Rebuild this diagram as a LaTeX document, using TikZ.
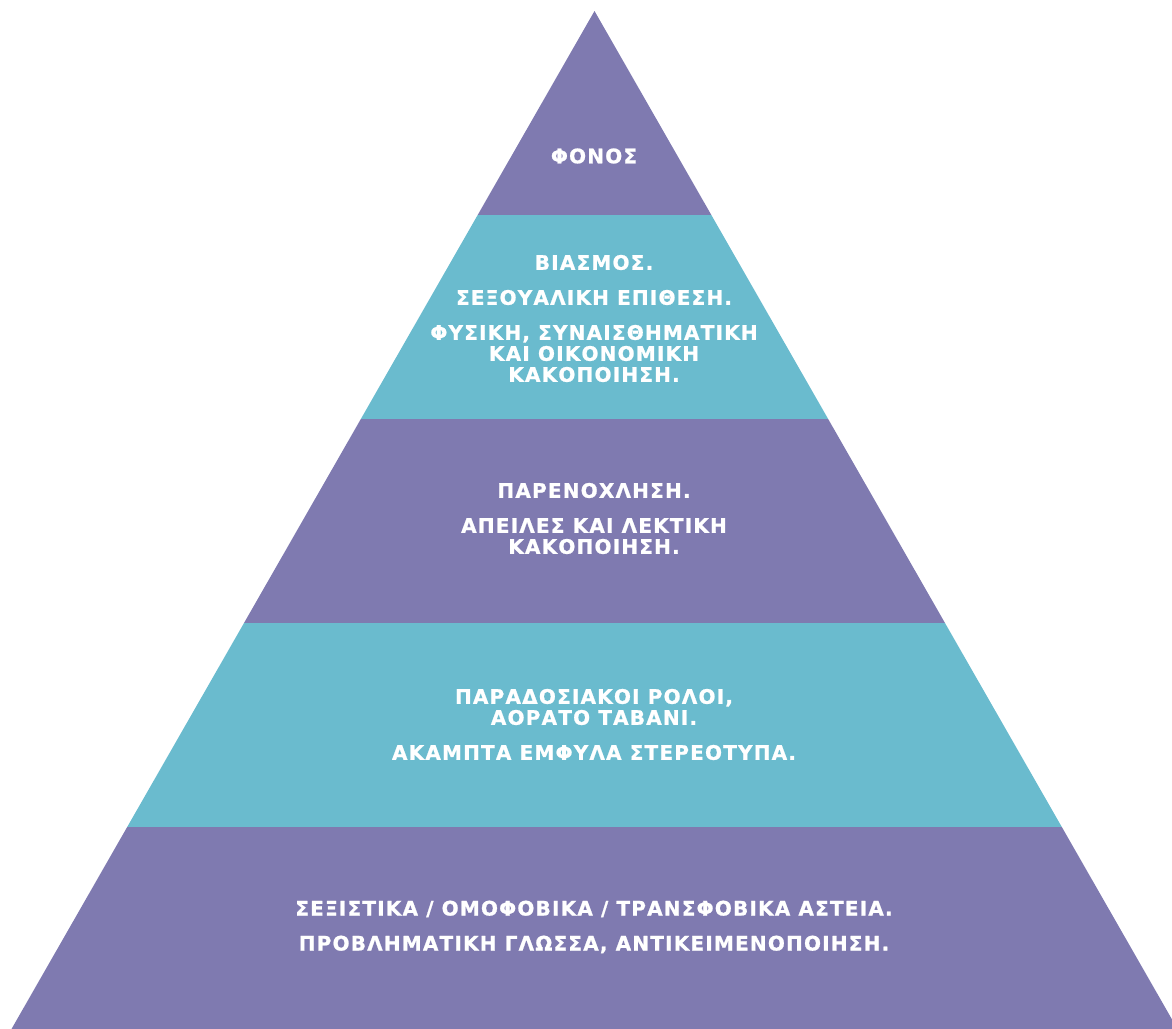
\documentclass[tikz,border=0pt]{standalone}
\usepackage{fontspec}
\usepackage{tikz}
\usetikzlibrary{calc}
\newfontfamily\pyrfont[LetterSpace=6,BoldFeatures={FakeBold=1}]{DejaVu Sans}
\definecolor{pyrpurple}{RGB}{127,122,176}
\definecolor{pyrteal}{RGB}{106,187,206}

\begin{document}
\begin{tikzpicture}[x=1pt,y=-1pt,
  band/.style={draw=none},
  words/.style={text=white,align=center,inner sep=0pt,
    font=\pyrfont\bfseries\fontsize{20}{21}\selectfont}]
  \useasboundingbox (0,0) rectangle (1172,1028);

  % bands of the pyramid, top to bottom
  \foreach \top/\bot/\col in {11/215/pyrpurple, 215/419/pyrteal, 419/623/pyrpurple,
                              623/827/pyrteal, 827/1031/pyrpurple}
  {
    \fill[band,\col] ({594.5-0.5727*(\top-11)},\top) -- ({594.5+0.5727*(\top-11)},\top)
      -- ({594.5+0.5727*(\bot-11)},\bot) -- ({594.5-0.5727*(\bot-11)},\bot) -- cycle;
  }

  \node(murder) [words] at (594,156) {ΦΟΝΟΣ};
  \node(rape) [words] at (594,318.5)
    {ΒΙΑΣΜΟΣ.\\[14pt] ΣΕΞΟΥΑΛΙΚΗ ΕΠΙΘΕΣΗ.\\[14pt] ΦΥΣΙΚΗ, ΣΥΝΑΙΣΘΗΜΑΤΙΚΗ\\ ΚΑΙ ΟΙΚΟΝΟΜΙΚΗ\\ ΚΑΚΟΠΟΙΗΣΗ.};
  \node(threat) [words] at (594,518.5)
    {ΠΑΡΕΝΟΧΛΗΣΗ.\\[14pt] ΑΠΕΙΛΕΣ ΚΑΙ ΛΕΚΤΙΚΗ\\ ΚΑΚΟΠΟΙΗΣΗ.};
  \node(roles) [words] at (594,724.5)
    {ΠΑΡΑΔΟΣΙΑΚΟΙ ΡΟΛΟΙ,\\ ΑΟΡΑΤΟ ΤΑΒΑΝΙ.\\[14pt] ΑΚΑΜΠΤΑ ΕΜΦΥΛΑ ΣΤΕΡΕΟΤΥΠΑ.};
  \node(jokes) [words] at (594,927)
    {ΣΕΞΙΣΤΙΚΑ / ΟΜΟΦΟΒΙΚΑ / ΤΡΑΝΣΦΟΒΙΚΑ ΑΣΤΕΙΑ.\\[14pt] ΠΡΟΒΛΗΜΑΤΙΚΗ ΓΛΩΣΣΑ, ΑΝΤΙΚΕΙΜΕΝΟΠΟΙΗΣΗ.};
\end{tikzpicture}
\end{document}
